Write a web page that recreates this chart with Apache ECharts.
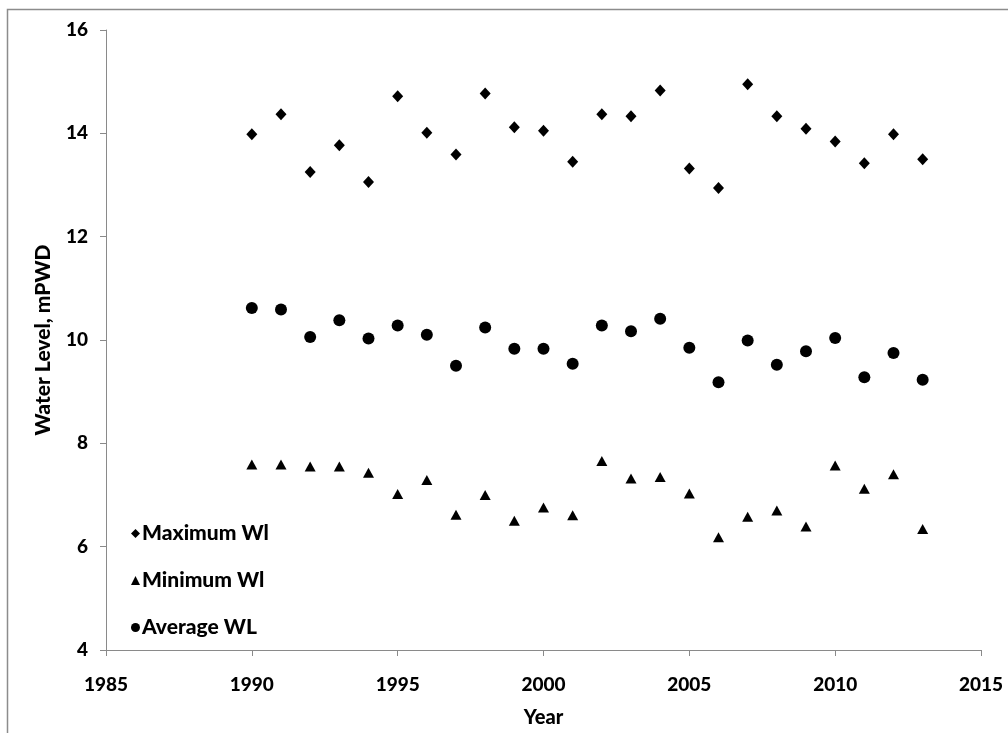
<!DOCTYPE html>
<html><head><meta charset="utf-8">
<script src="https://cdn.jsdelivr.net/npm/echarts@6/dist/echarts.min.js"></script>
<style>html,body{margin:0;padding:0;background:#fff}#c{width:1008px;height:733px}</style>
</head><body><div id="c"></div>
<script>
const years = [1990,1991,1992,1993,1994,1995,1996,1997,1998,1999,2000,2001,2002,2003,2004,2005,2006,2007,2008,2009,2010,2011,2012,2013];
const maxWL = [13.98,14.37,13.25,13.77,13.06,14.72,14.01,13.59,14.77,14.12,14.05,13.45,14.37,14.33,14.83,13.32,12.94,14.95,14.33,14.09,13.84,13.42,13.98,13.50];
const minWL = [7.59,7.59,7.55,7.55,7.43,7.02,7.29,6.62,7.00,6.50,6.76,6.61,7.66,7.32,7.35,7.03,6.18,6.58,6.70,6.39,7.57,7.12,7.40,6.34];
const avgWL = [10.62,10.59,10.06,10.38,10.03,10.28,10.10,9.50,10.24,9.83,9.83,9.54,10.28,10.17,10.41,9.85,9.18,9.99,9.52,9.78,10.04,9.28,9.75,9.23];
const seriesNames = ['Maximum Wl','Minimum Wl','Average WL'];
const xTitle = 'Year';
const yTitle = 'Water Level, mPWD';

const font = 'Lato, "Open Sans", sans-serif';
const fw = 900;
const pair = arr => years.map((y,i)=>[y,arr[i]]);
const chart = echarts.init(document.getElementById('c'));
chart.setOption({
  animation:false,
  backgroundColor:'#fff',
  graphic:[{type:'rect',shape:{x:7.5,y:9.5,width:1010,height:740},style:{fill:'none',stroke:'#8c8c8c',lineWidth:1.5},silent:true}],
  grid:{left:106,right:27,top:30,bottom:80},
  legend:{
    orient:'vertical',left:126,top:518,itemGap:26,itemWidth:9,itemHeight:9,
    data:seriesNames,
    textStyle:{fontFamily:font,fontWeight:fw,fontSize:21,color:'#000',padding:[0,0,0,-3]}
  },
  xAxis:{
    type:'value',min:1985,max:2015,interval:5,
    name:xTitle,nameLocation:'middle',nameGap:58,
    nameTextStyle:{fontFamily:font,fontWeight:fw,fontSize:20,color:'#000'},
    axisLine:{lineStyle:{color:'#8a8a8a',width:1}},
    axisTick:{show:true,length:6,lineStyle:{color:'#8a8a8a'}},
    axisLabel:{fontFamily:font,fontWeight:fw,fontSize:19,color:'#000',margin:25,formatter:v=>String(v)},
    splitLine:{show:false}
  },
  yAxis:{
    type:'value',min:4,max:16,interval:2,
    name:yTitle,nameLocation:'middle',nameGap:52,
    nameTextStyle:{fontFamily:font,fontWeight:fw,fontSize:21,color:'#000'},
    axisLine:{show:true,lineStyle:{color:'#8a8a8a',width:1}},
    axisTick:{show:true,length:6,lineStyle:{color:'#8a8a8a'}},
    axisLabel:{fontFamily:font,fontWeight:fw,fontSize:19,color:'#000',margin:18},
    splitLine:{show:false}
  },
  series:[
    {name:seriesNames[0],type:'scatter',data:pair(maxWL),symbol:'diamond',symbolSize:[11,12],itemStyle:{color:'#000',opacity:1}},
    {name:seriesNames[1],type:'scatter',data:pair(minWL),symbol:'triangle',symbolSize:[11,10],itemStyle:{color:'#000',opacity:1}},
    {name:seriesNames[2],type:'scatter',data:pair(avgWL),symbol:'circle',symbolSize:12,itemStyle:{color:'#000',opacity:1}}
  ]
});
</script></body></html>
